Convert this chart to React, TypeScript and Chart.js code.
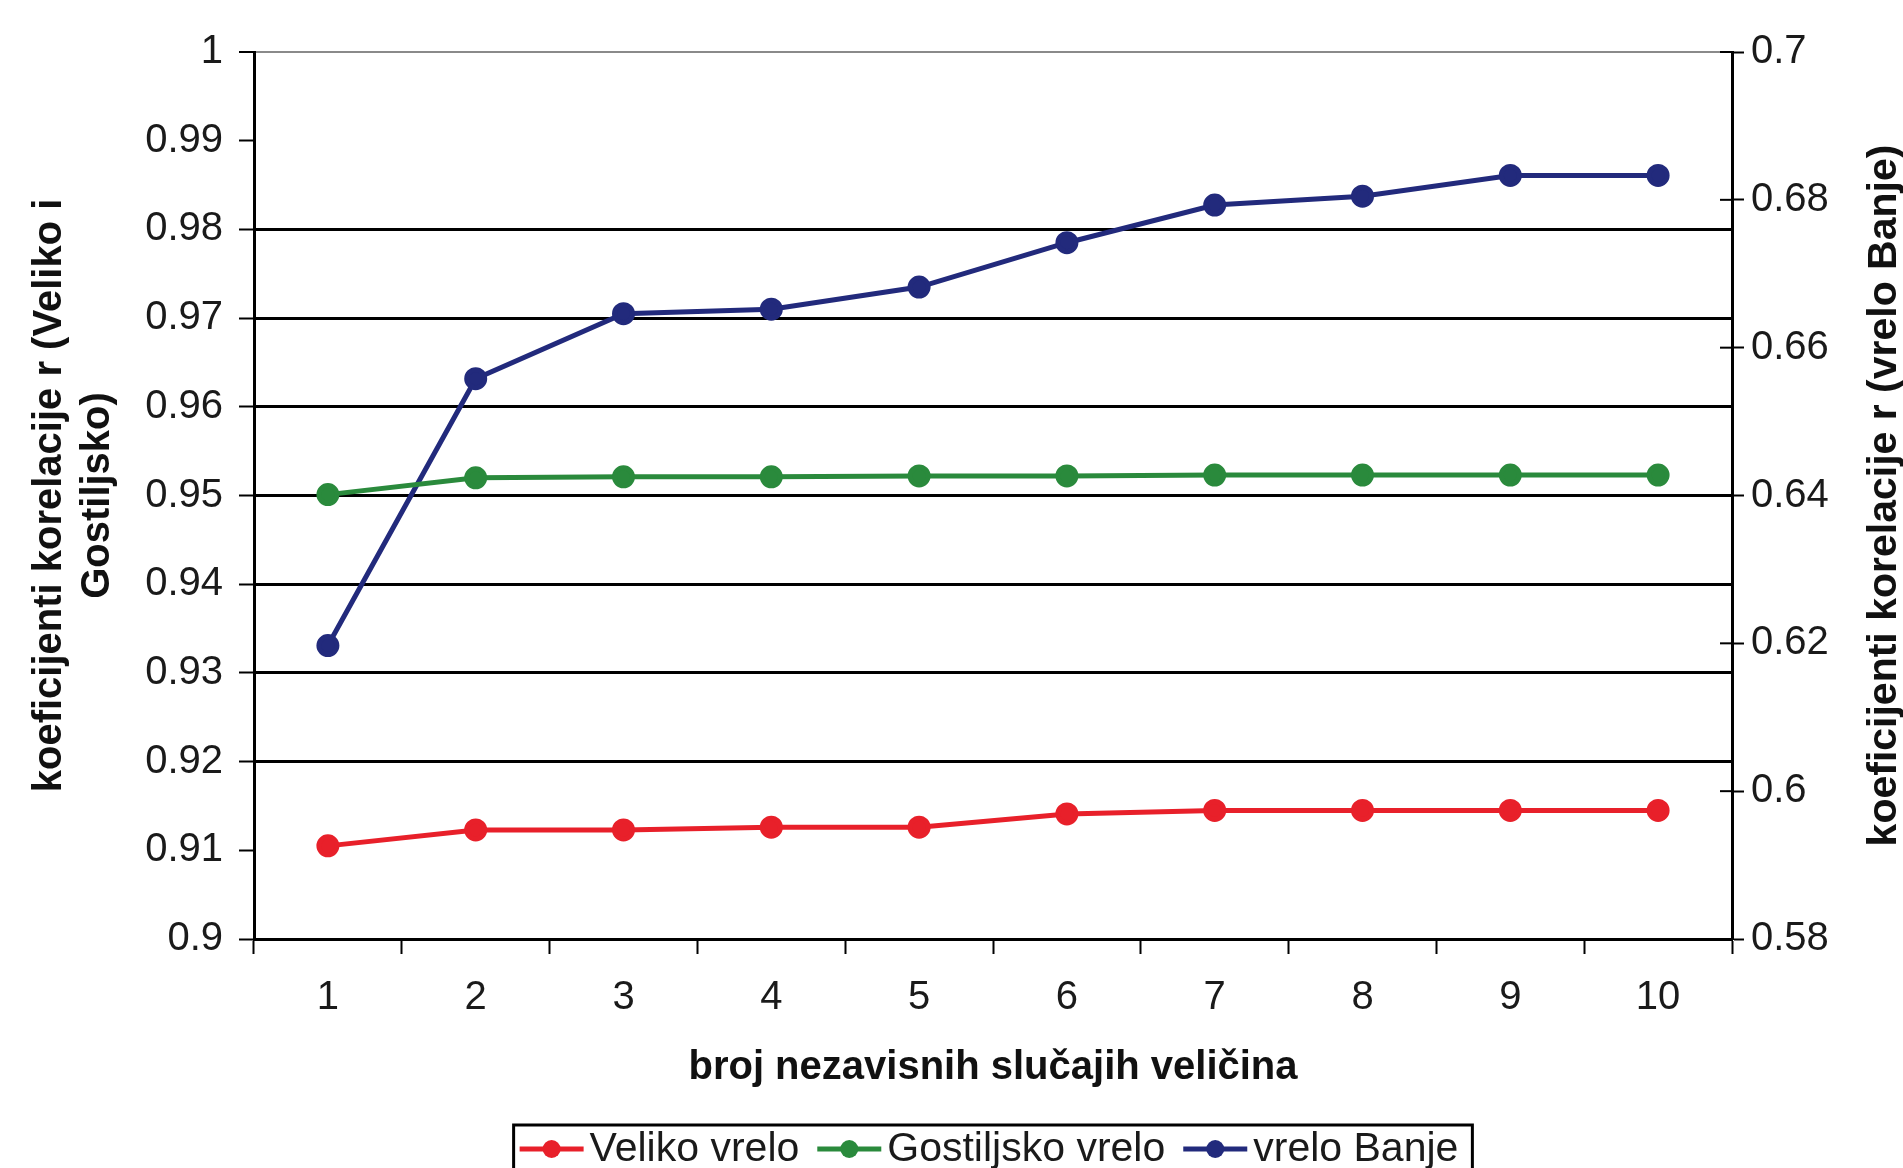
import React, { useEffect, useRef } from "react";
import { Chart, registerables } from "chart.js";

Chart.register(...registerables);

const categories = ["1", "2", "3", "4", "5", "6", "7", "8", "9", "10"];
const velikoVrelo = [0.9105, 0.9123, 0.9123, 0.9126, 0.9126, 0.9141, 0.9145, 0.9145, 0.9145, 0.9145];
const gostiljskoVrelo = [0.9501, 0.952, 0.9521, 0.9521, 0.9522, 0.9522, 0.9523, 0.9523, 0.9523, 0.9523];
const vreloBanje = [0.6197, 0.6558, 0.6646, 0.6652, 0.6682, 0.6742, 0.6793, 0.6805, 0.6833, 0.6833];
const seriesNames = ["Veliko vrelo", "Gostiljsko vrelo", "vrelo Banje"];
const seriesColors = ["#E8202A", "#2A8A3C", "#222A7C"];
const leftTitle = ["koeficijenti korelacije r (Veliko i", "Gostiljsko)"];
const rightTitle = "koeficijenti korelacije r (vrelo Banje)";
const xTitle = "broj nezavisnih slučajih veličina";

const FONT = "'Liberation Sans', Arial, Helvetica, sans-serif";

const fmt = (v: number) => String(Number(Number(v).toFixed(3)));

const extrasPlugin = {
  id: "extras",
  afterDraw(chart: any) {
    const ctx = chart.ctx;
    const y1 = chart.scales.y1;
    const area = chart.chartArea;
    ctx.save();
    // inner half of right-axis tick marks (they cross the axis)
    ctx.strokeStyle = "#000";
    ctx.lineWidth = 2;
    y1.ticks.forEach((_t: any, i: number) => {
      const py = y1.getPixelForTick(i);
      ctx.beginPath();
      ctx.moveTo(y1.left - 12, py);
      ctx.lineTo(y1.left, py);
      ctx.stroke();
    });
    // right axis title, reading bottom to top
    ctx.translate(1885, (area.top + area.bottom) / 2);
    ctx.rotate(-Math.PI / 2);
    ctx.font = `bold 41px ${FONT}`;
    ctx.fillStyle = "#111";
    ctx.textAlign = "center";
    ctx.textBaseline = "middle";
    ctx.fillText(rightTitle, 0, 0);
    ctx.restore();

    // legend with a frame
    ctx.save();
    ctx.font = `41px ${FONT}`;
    const lineLen = 64;
    const gapLineText = 6;
    const gapItems = 18;
    const padX = 6;
    const widths = chart.data.datasets.map((d: any) => ctx.measureText(d.label).width);
    let total = padX * 2;
    widths.forEach((w: number, i: number) => {
      total += lineLen + gapLineText + w + (i < widths.length - 1 ? gapItems : 0);
    });
    total += 8;
    const cx = (area.left + area.right) / 2;
    const boxLeft = cx - total / 2;
    const boxTop = 1125;
    const cy = 1149;
    ctx.strokeStyle = "#000";
    ctx.lineWidth = 3;
    ctx.strokeRect(boxLeft, boxTop, total, 80);
    let x = boxLeft + padX;
    chart.data.datasets.forEach((d: any, i: number) => {
      ctx.strokeStyle = d.borderColor;
      ctx.lineWidth = 5;
      ctx.beginPath();
      ctx.moveTo(x, cy);
      ctx.lineTo(x + lineLen, cy);
      ctx.stroke();
      ctx.fillStyle = d.borderColor;
      ctx.beginPath();
      ctx.arc(x + lineLen / 2, cy, 9, 0, Math.PI * 2);
      ctx.fill();
      x += lineLen + gapLineText;
      ctx.fillStyle = "#1a1a1a";
      ctx.textAlign = "left";
      ctx.textBaseline = "middle";
      ctx.fillText(d.label, x, cy + 1);
      x += widths[i] + gapItems;
    });
    ctx.restore();
  },
};

export default function App() {
  const canvasRef = useRef<HTMLCanvasElement | null>(null);

  useEffect(() => {
    document.body.style.margin = "0";
    const canvas = canvasRef.current;
    if (!canvas) return;
    const mk = (label: string, data: number[], color: string, axis: string) => ({
      label,
      data,
      yAxisID: axis,
      borderColor: color,
      backgroundColor: color,
      pointBackgroundColor: color,
      pointBorderColor: color,
      borderWidth: 5,
      pointRadius: 9,
      pointHoverRadius: 9,
      tension: 0,
      fill: false,
    });
    const chart = new Chart(canvas, {
      type: "line",
      data: {
        labels: categories,
        datasets: [
          mk(seriesNames[0], velikoVrelo, seriesColors[0], "y"),
          mk(seriesNames[1], gostiljskoVrelo, seriesColors[1], "y"),
          mk(seriesNames[2], vreloBanje, seriesColors[2], "y1"),
        ],
      },
      options: {
        animation: false,
        responsive: true,
        maintainAspectRatio: false,
        layout: { padding: { top: 52, left: 0, right: 0, bottom: 0 } },
        plugins: {
          legend: { display: false },
          tooltip: { enabled: false },
        },
        scales: {
          x: {
            type: "category",
            offset: true,
            afterFit: (s: any) => {
              s.height = 1168 - 939;
            },
            grid: {
              offset: true,
              drawOnChartArea: false,
              drawTicks: true,
              tickLength: 15,
              tickColor: "#000",
              tickWidth: 2,
            },
            border: { display: true, color: "#000", width: 3 },
            ticks: {
              font: { family: FONT, size: 40 },
              color: "#1a1a1a",
              padding: 20,
              maxRotation: 0,
            },
            title: {
              display: true,
              text: xTitle,
              font: { family: FONT, size: 40, weight: "bold" },
              color: "#111",
              padding: { top: 0, bottom: 76 },
            },
          },
          y: {
            position: "left",
            min: 0.9,
            max: 1,
            afterFit: (s: any) => {
              s.width = 254;
            },
            ticks: {
              stepSize: 0.01,
              callback: (v: any) => fmt(v),
              font: { family: FONT, size: 40 },
              color: "#1a1a1a",
              padding: 16,
            },
            grid: {
              drawOnChartArea: true,
              tickLength: 15,
              tickColor: "#000",
              tickWidth: 2,
              lineWidth: (c: any) => (c.tick && Math.abs(c.tick.value - 1) < 1e-6 ? 2 : 3),
              color: (c: any) => {
                const v = c.tick ? c.tick.value : 0;
                if (Math.abs(v - 1) < 1e-6) return "#8a8a8a";
                if (v > 0.915 && v < 0.985) return "#000";
                return "rgba(0,0,0,0)";
              },
            },
            border: { display: true, color: "#000", width: 3 },
            title: {
              display: true,
              text: leftTitle,
              font: { family: FONT, size: 40, weight: "bold" },
              color: "#111",
              padding: { top: 26, bottom: 0 },
            },
          },
          y1: {
            position: "right",
            min: 0.58,
            max: 0.7,
            afterFit: (s: any) => {
              s.width = 1903 - 1732;
            },
            ticks: {
              stepSize: 0.02,
              callback: (v: any) => fmt(v),
              font: { family: FONT, size: 40 },
              color: "#1a1a1a",
              padding: 7,
            },
            grid: {
              drawOnChartArea: false,
              tickLength: 12,
              tickColor: "#000",
              tickWidth: 2,
            },
            border: { display: true, color: "#000", width: 3 },
          },
        },
      },
      plugins: [extrasPlugin],
    } as any);
    return () => chart.destroy();
  }, []);

  return (
    <div style={{ position: "relative", width: "1903px", height: "1168px", background: "#fff" }}>
      <canvas ref={canvasRef} />
    </div>
  );
}
